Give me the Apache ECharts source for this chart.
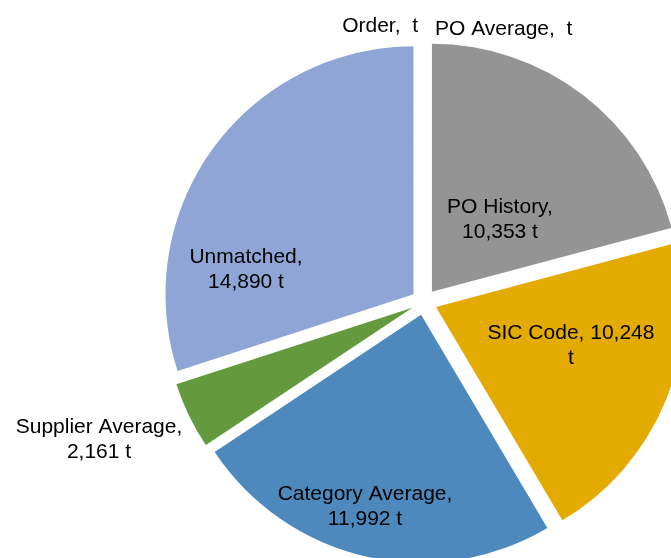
<!DOCTYPE html>
<html>
<head>
<meta charset="utf-8">
<script src="https://cdn.jsdelivr.net/npm/echarts@6/dist/echarts.min.js"></script>
<style>
  html, body { margin: 0; padding: 0; background: #fff; }
  #chartPie { width: 671px; height: 558px; }
</style>
</head>
<body>
<div id="chartPie"></div>
<script>
// 数据（clockwise from 12 o'clock）
var names = ['PO Average', 'PO History', 'SIC Code', 'Category Average', 'Supplier Average', 'Unmatched', 'Order'];
var tonnes = [0, 10353, 10248, 11992, 2161, 14890, 0];
var colors = ['#949494', '#949494', '#E3AA00', '#4E89BE', '#639A3E', '#8EA5D5', '#8EA5D5'];

// label placement (Excel style, not on the bisector)
var labelPos = [
  { x: 435, y: 29, align: 'left' },
  { x: 500, y: 220, align: 'center' },
  { x: 571, y: 346, align: 'center' },
  { x: 365, y: 507, align: 'center' },
  { x: 99, y: 440, align: 'center' },
  { x: 246, y: 270, align: 'center' },
  { x: 418, y: 26, align: 'right' }
];

function fmt(v) {
  return v ? v.toLocaleString('en-US') : '';
}

function labelText(name, value) {
  var v = fmt(value);
  if (!v) return name + ',  t';
  if (name === 'SIC Code') return name + ', ' + v + '\nt';
  return name + ',\n' + v + ' t';
}

var chart = echarts.init(document.getElementById('chartPie'));

var option = {
  animation: false,
  // pie labels drawn as texts so they can sit where Excel put them
  graphic: names.map(function (n, i) {
    var lp = labelPos[i];
    return {
      type: 'text',
      x: lp.x,
      y: lp.y,
      silent: true,
      z: 10,
      style: {
        text: labelText(n, tonnes[i]),
        fill: '#000',
        font: '21px "Liberation Sans", Arial, sans-serif',
        lineHeight: 25,
        align: lp.align,
        verticalAlign: 'middle'
      }
    };
  }),
  series: [{
    type: 'pie',
    center: [424, 302],
    radius: 248,
    startAngle: 90,
    clockwise: true,
    selectedMode: 'multiple',
    selectedOffset: 13,
    emphasis: { disabled: true },
    itemStyle: { borderWidth: 0 },
    label: { show: false },
    labelLine: { show: false },
    data: names.map(function (n, i) {
      return {
        name: n,
        value: tonnes[i],
        selected: true,
        itemStyle: { color: colors[i] },
        select: { itemStyle: { color: colors[i] } }
      };
    })
  }]
};

chart.setOption(option);
</script>
</body>
</html>
